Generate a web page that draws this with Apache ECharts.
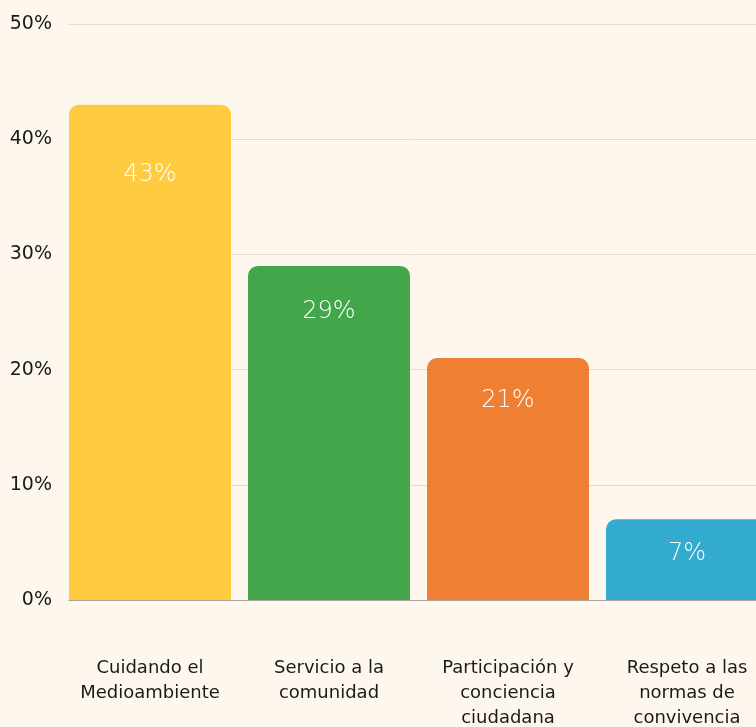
<!DOCTYPE html>
<html>
<head>
<meta charset="utf-8">
<script src="https://cdn.jsdelivr.net/npm/echarts@6/dist/echarts.min.js"></script>
<style>
  html, body { margin: 0; padding: 0; background: #FEF7EE; }
  #chart { width: 756px; height: 727px; }
</style>
</head>
<body>
<div id="chart"></div>
<script>
  // categorias y valores (%)
  var categories = [
    'Cuidando el\nMedioambiente',
    'Servicio a la\ncomunidad',
    'Participación y\nconciencia\nciudadana',
    'Respeto a las\nnormas de\nconvivencia'
  ];
  var values = [43, 29, 21, 7];
  var barColors = ['#FFCB40', '#43A64A', '#EE7F33', '#33ABCE'];
  var labelGap = [58, 34, 31, 22];
  var yTicks = { min: 0, max: 50, interval: 10 };

  var font = '"DejaVu Sans", "Noto Sans", sans-serif';

  var chart = echarts.init(document.getElementById('chart'));

  chart.setOption({
    backgroundColor: '#FEF7EE',
    animation: false,
    grid: [
      {left: 69, right: 0, top: 24, bottom: 127, outerBoundsMode: 'none', containLabel: false},
      {left: 60.5, width: 716, top: 24, bottom: 127, outerBoundsMode: 'none', containLabel: false}
    ],
    xAxis: [
      {
        type: 'category',
        gridIndex: 0,
        data: categories,
        axisLine: {show: true, lineStyle: {color: '#A8A29C', width: 1}},
        axisTick: {show: false},
        axisLabel: {show: false}
      },
      {
        type: 'category',
        gridIndex: 1,
        data: categories,
        axisLine: {show: false},
        axisTick: {show: false},
        axisLabel: {
          margin: 56,
          color: '#1A1A1A',
          fontSize: 18,
          lineHeight: 25,
          fontFamily: font,
          interval: 0
        }
      }
    ],
    yAxis: [
      {
        type: 'value',
        gridIndex: 0,
        min: yTicks.min,
        max: yTicks.max,
        interval: yTicks.interval,
        axisLine: {show: false},
        axisTick: {show: false},
        axisLabel: {
          formatter: '{value}%',
          margin: 17,
          color: '#1A1A1A',
          fontSize: 19,
          fontFamily: font
        },
        splitLine: {lineStyle: {color: '#E3D9CF', width: 1}}
      },
      {
        type: 'value',
        gridIndex: 1,
        min: yTicks.min,
        max: yTicks.max,
        interval: yTicks.interval,
        show: false,
        splitLine: {show: false}
      }
    ],
    series: [
      {
        type: 'bar',
        xAxisIndex: 1,
        yAxisIndex: 1,
        barWidth: 162,
        data: values.map(function (v, i) {
          return {
            value: v,
            itemStyle: {color: barColors[i], borderRadius: [10, 10, 0, 0]},
            label: {distance: labelGap[i]}
          };
        }),
        label: {
          show: true,
          position: 'insideTop',
          formatter: '{c}%',
          color: '#FFFFFF',
          fontSize: 24,
          fontWeight: 200,
          fontFamily: font
        }
      }
    ]
  });
</script>
</body>
</html>
